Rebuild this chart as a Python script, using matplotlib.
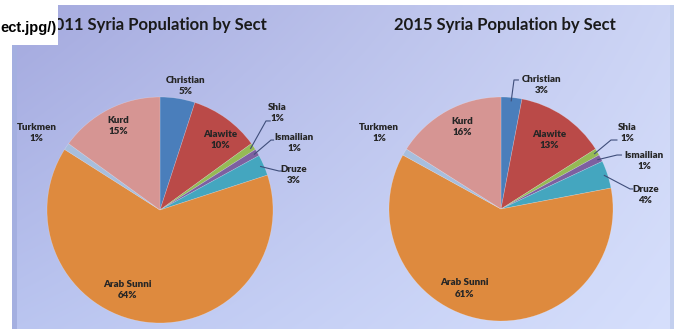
import numpy as np
import matplotlib.pyplot as plt
from matplotlib.patches import Rectangle

W, H = 685, 329

sects = ['Christian', 'Alawite', 'Shia', 'Ismailian', 'Druze', 'Arab Sunni', 'Turkmen', 'Kurd']
share_2011 = [5, 10, 1, 1, 3, 64, 1, 15]
share_2015 = [3, 13, 1, 1, 4, 61, 1, 16]
colors = ['#4A7EBB', '#BA4A48', '#95BA55', '#7D60A0', '#44A6BF', '#DE8A3E', '#A7BEDD', '#D69593']

# label centres in pie-radius units
labels_2011 = {'Christian': (0.23, 1.10), 'Alawite': (0.53, 0.62), 'Shia': (1.04, 0.86),
               'Ismailian': (1.19, 0.59), 'Druze': (1.18, 0.31), 'Arab Sunni': (-0.29, -0.71),
               'Turkmen': (-1.09, 0.68), 'Kurd': (-0.37, 0.74)}
labels_2015 = {'Christian': (0.36, 1.11), 'Alawite': (0.43, 0.62), 'Shia': (1.125, 0.68),
               'Ismailian': (1.28, 0.43), 'Druze': (1.29, 0.125), 'Arab Sunni': (-0.33, -0.71),
               'Turkmen': (-1.09, 0.68), 'Kurd': (-0.35, 0.73)}
# leader lines: elbow and end point
leaders_2011 = {'Shia': ((0.938, 0.788), (0.975, 0.788)),
                'Ismailian': ((0.982, 0.619), (1.005, 0.619)),
                'Druze': ((1.053, 0.345), (1.075, 0.345))}
leaders_2015 = {'Christian': ((0.116, 1.152), (0.155, 1.152)),
                'Shia': ((0.982, 0.616), (1.035, 0.616)),
                'Ismailian': ((1.036, 0.482), (1.075, 0.482)),
                'Druze': ((1.152, 0.179), (1.175, 0.179))}

plt.rcParams['font.family'] = ['Lato', 'DejaVu Sans']
fig = plt.figure(figsize=(W / 100, H / 100), dpi=100)
fig.patch.set_facecolor('white')

# slide background
bg = fig.add_axes([0, 0, 1, 1])
bg.axis('off')
tl, tr = np.array([164, 169, 222]), np.array([205, 213, 245])
bl, br = np.array([186, 197, 240]), np.array([214, 223, 252])
gx = np.linspace(0, 1, 200)[None, :, None]
gy = np.linspace(0, 1, 100)[:, None, None]
grad = (tl * (1 - gx) * (1 - gy) + tr * gx * (1 - gy) + bl * (1 - gx) * gy + br * gx * gy) / 255
bg.imshow(grad, extent=(12, 674, 329, 5), aspect='auto', interpolation='bilinear')
bg.add_patch(Rectangle((12, 5), 5, 324, color='#A4AFE0', lw=0))
bg.add_patch(Rectangle((670, 5), 4, 324, color='#C3CFEE', lw=0))
bg.set_xlim(0, W)
bg.set_ylim(H, 0)

bg.text(156, 25, '2011 Syria Population by Sect', ha='center', va='center',
        fontsize=12, fontweight='bold', color='#1A1A1A')
bg.text(505, 25, '2015 Syria Population by Sect', ha='center', va='center',
        fontsize=12, fontweight='bold', color='#1A1A1A')
bg.add_patch(Rectangle((0, 0), 58, 45, color='white', lw=0, zorder=5))
bg.text(57, 28, 'ect.jpg/)', ha='right', va='center', fontsize=10.5, fontweight='bold',
        family='Liberation Sans', color='black', zorder=6)


def draw_pie(cx, cy, r, values, labels, leaders):
    ax = fig.add_axes([(cx - r) / W, (H - cy - r) / H, 2 * r / W, 2 * r / H])
    wedges, _ = ax.pie(values, colors=colors, startangle=90, counterclock=False,
                       wedgeprops=dict(linewidth=0.4, edgecolor=(1, 1, 1, 0.3)))
    ax.set_xlim(-1, 1)
    ax.set_ylim(-1, 1)
    for w, name, v in zip(wedges, sects, values):
        x, y = labels[name]
        ax.text(x, y, f'{name}\n{v}%', ha='center', va='center', fontsize=7,
                fontweight='heavy', color='#262626', linespacing=1.3)
        if name in leaders:
            mid = np.deg2rad((w.theta1 + w.theta2) / 2)
            (ex, ey), (tx, ty) = leaders[name]
            ax.plot([0.97 * np.cos(mid), ex, tx], [0.97 * np.sin(mid), ey, ty],
                    color='#3F4E7A', lw=0.8, clip_on=False)


draw_pie(160, 210, 113, share_2011, labels_2011, leaders_2011)
draw_pie(501, 209, 112, share_2015, labels_2015, leaders_2015)

fig.savefig('out.png', dpi=100)
